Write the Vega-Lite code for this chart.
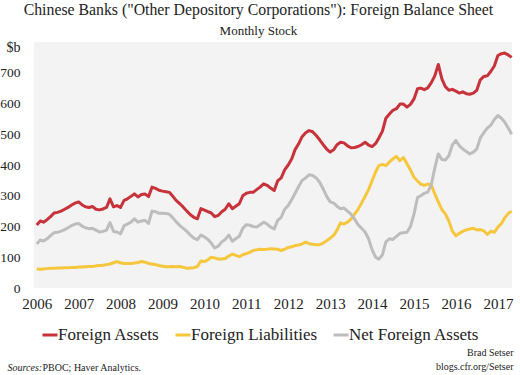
{
  "$schema": "https://vega.github.io/schema/vega-lite/v6.json",
  "width": 478,
  "height": 246,
  "autosize": {"type": "none"},
  "padding": {"left": 34, "top": 42, "right": 8, "bottom": 87},
  "background": "white",
  "config": {
    "font": "Liberation Serif",
    "view": {"fill": "#f3f3f3", "stroke": null},
    "axis": {"labelFont": "Liberation Serif", "titleFont": "Liberation Serif"},
    "legend": {"labelFont": "Liberation Serif", "titleFont": "Liberation Serif"},
    "title": {"font": "Liberation Serif", "subtitleFont": "Liberation Serif"}
  },
  "title": {
    "text": "Chinese Banks (\"Other Depository Corporations\"): Foreign Balance Sheet",
    "subtitle": "Monthly Stock",
    "font": "Liberation Serif",
    "subtitleFont": "Liberation Serif",
    "fontSize": 15.8,
    "fontWeight": "normal",
    "subtitleFontSize": 13,
    "color": "#222",
    "subtitleColor": "#222",
    "anchor": "middle",
    "frame": "bounds",
    "dx": 2,
    "offset": 1,
    "subtitlePadding": 6
  },
  "data": {"values": [
    {"date":"2006-01-01","assets":205,"liabilities":62,"net":143},
    {"date":"2006-02-01","assets":218,"liabilities":61,"net":156},
    {"date":"2006-03-01","assets":214,"liabilities":62,"net":153},
    {"date":"2006-04-01","assets":222,"liabilities":63,"net":160},
    {"date":"2006-05-01","assets":232,"liabilities":64,"net":170},
    {"date":"2006-06-01","assets":244,"liabilities":64,"net":180},
    {"date":"2006-07-01","assets":246,"liabilities":65,"net":181},
    {"date":"2006-08-01","assets":250,"liabilities":65,"net":185},
    {"date":"2006-09-01","assets":256,"liabilities":66,"net":190},
    {"date":"2006-10-01","assets":262,"liabilities":66,"net":196},
    {"date":"2006-11-01","assets":270,"liabilities":67,"net":203},
    {"date":"2006-12-01","assets":276,"liabilities":67,"net":208},
    {"date":"2007-01-01","assets":280,"liabilities":68,"net":210},
    {"date":"2007-02-01","assets":270,"liabilities":68,"net":201},
    {"date":"2007-03-01","assets":264,"liabilities":69,"net":196},
    {"date":"2007-04-01","assets":262,"liabilities":70,"net":193},
    {"date":"2007-05-01","assets":265,"liabilities":70,"net":194},
    {"date":"2007-06-01","assets":256,"liabilities":72,"net":188},
    {"date":"2007-07-01","assets":254,"liabilities":73,"net":182},
    {"date":"2007-08-01","assets":257,"liabilities":74,"net":184},
    {"date":"2007-09-01","assets":262,"liabilities":76,"net":188},
    {"date":"2007-10-01","assets":290,"liabilities":78,"net":213},
    {"date":"2007-11-01","assets":264,"liabilities":82,"net":184},
    {"date":"2007-12-01","assets":268,"liabilities":86,"net":182},
    {"date":"2008-01-01","assets":262,"liabilities":82,"net":176},
    {"date":"2008-02-01","assets":285,"liabilities":80,"net":203},
    {"date":"2008-03-01","assets":290,"liabilities":80,"net":208},
    {"date":"2008-04-01","assets":298,"liabilities":80,"net":214},
    {"date":"2008-05-01","assets":306,"liabilities":81,"net":225},
    {"date":"2008-06-01","assets":296,"liabilities":83,"net":214},
    {"date":"2008-07-01","assets":304,"liabilities":86,"net":218},
    {"date":"2008-08-01","assets":306,"liabilities":84,"net":220},
    {"date":"2008-09-01","assets":297,"liabilities":80,"net":210},
    {"date":"2008-10-01","assets":328,"liabilities":78,"net":250},
    {"date":"2008-11-01","assets":324,"liabilities":76,"net":248},
    {"date":"2008-12-01","assets":318,"liabilities":73,"net":243},
    {"date":"2009-01-01","assets":315,"liabilities":71,"net":243},
    {"date":"2009-02-01","assets":313,"liabilities":69,"net":242},
    {"date":"2009-03-01","assets":311,"liabilities":69,"net":240},
    {"date":"2009-04-01","assets":298,"liabilities":70,"net":228},
    {"date":"2009-05-01","assets":284,"liabilities":69,"net":215},
    {"date":"2009-06-01","assets":274,"liabilities":70,"net":203},
    {"date":"2009-07-01","assets":263,"liabilities":67,"net":194},
    {"date":"2009-08-01","assets":250,"liabilities":64,"net":184},
    {"date":"2009-09-01","assets":238,"liabilities":65,"net":172},
    {"date":"2009-10-01","assets":230,"liabilities":66,"net":162},
    {"date":"2009-11-01","assets":225,"liabilities":70,"net":157},
    {"date":"2009-12-01","assets":258,"liabilities":88,"net":172},
    {"date":"2010-01-01","assets":253,"liabilities":86,"net":166},
    {"date":"2010-02-01","assets":248,"liabilities":92,"net":158},
    {"date":"2010-03-01","assets":244,"liabilities":100,"net":146},
    {"date":"2010-04-01","assets":232,"liabilities":98,"net":130},
    {"date":"2010-05-01","assets":236,"liabilities":94,"net":136},
    {"date":"2010-06-01","assets":248,"liabilities":94,"net":150},
    {"date":"2010-07-01","assets":256,"liabilities":96,"net":158},
    {"date":"2010-08-01","assets":274,"liabilities":104,"net":172},
    {"date":"2010-09-01","assets":258,"liabilities":110,"net":152},
    {"date":"2010-10-01","assets":266,"liabilities":106,"net":160},
    {"date":"2010-11-01","assets":274,"liabilities":102,"net":168},
    {"date":"2010-12-01","assets":300,"liabilities":108,"net":194},
    {"date":"2011-01-01","assets":308,"liabilities":112,"net":206},
    {"date":"2011-02-01","assets":311,"liabilities":116,"net":204},
    {"date":"2011-03-01","assets":311,"liabilities":122,"net":200},
    {"date":"2011-04-01","assets":320,"liabilities":124,"net":198},
    {"date":"2011-05-01","assets":328,"liabilities":126,"net":206},
    {"date":"2011-06-01","assets":339,"liabilities":125,"net":214},
    {"date":"2011-07-01","assets":334,"liabilities":126,"net":208},
    {"date":"2011-08-01","assets":325,"liabilities":128,"net":198},
    {"date":"2011-09-01","assets":317,"liabilities":127,"net":192},
    {"date":"2011-10-01","assets":348,"liabilities":126,"net":220},
    {"date":"2011-11-01","assets":358,"liabilities":122,"net":230},
    {"date":"2011-12-01","assets":384,"liabilities":126,"net":256},
    {"date":"2012-01-01","assets":400,"liabilities":132,"net":268},
    {"date":"2012-02-01","assets":420,"liabilities":134,"net":288},
    {"date":"2012-03-01","assets":450,"liabilities":138,"net":308},
    {"date":"2012-04-01","assets":469,"liabilities":140,"net":330},
    {"date":"2012-05-01","assets":492,"liabilities":143,"net":350},
    {"date":"2012-06-01","assets":505,"liabilities":149,"net":358},
    {"date":"2012-07-01","assets":512,"liabilities":144,"net":368},
    {"date":"2012-08-01","assets":508,"liabilities":142,"net":366},
    {"date":"2012-09-01","assets":496,"liabilities":141,"net":358},
    {"date":"2012-10-01","assets":482,"liabilities":141,"net":344},
    {"date":"2012-11-01","assets":466,"liabilities":146,"net":322},
    {"date":"2012-12-01","assets":452,"liabilities":154,"net":298},
    {"date":"2013-01-01","assets":442,"liabilities":162,"net":280},
    {"date":"2013-02-01","assets":450,"liabilities":172,"net":276},
    {"date":"2013-03-01","assets":466,"liabilities":188,"net":266},
    {"date":"2013-04-01","assets":474,"liabilities":212,"net":258},
    {"date":"2013-05-01","assets":472,"liabilities":208,"net":260},
    {"date":"2013-06-01","assets":462,"liabilities":214,"net":250},
    {"date":"2013-07-01","assets":456,"liabilities":224,"net":240},
    {"date":"2013-08-01","assets":457,"liabilities":240,"net":224},
    {"date":"2013-09-01","assets":460,"liabilities":256,"net":206},
    {"date":"2013-10-01","assets":466,"liabilities":276,"net":194},
    {"date":"2013-11-01","assets":474,"liabilities":298,"net":182},
    {"date":"2013-12-01","assets":465,"liabilities":320,"net":160},
    {"date":"2014-01-01","assets":460,"liabilities":349,"net":124},
    {"date":"2014-02-01","assets":470,"liabilities":378,"net":100},
    {"date":"2014-03-01","assets":488,"liabilities":398,"net":94},
    {"date":"2014-04-01","assets":510,"liabilities":402,"net":108},
    {"date":"2014-05-01","assets":552,"liabilities":398,"net":150},
    {"date":"2014-06-01","assets":566,"liabilities":410,"net":160},
    {"date":"2014-07-01","assets":578,"liabilities":420,"net":158},
    {"date":"2014-08-01","assets":583,"liabilities":428,"net":168},
    {"date":"2014-09-01","assets":598,"liabilities":414,"net":178},
    {"date":"2014-10-01","assets":598,"liabilities":424,"net":180},
    {"date":"2014-11-01","assets":588,"liabilities":404,"net":181},
    {"date":"2014-12-01","assets":597,"liabilities":384,"net":200},
    {"date":"2015-01-01","assets":615,"liabilities":360,"net":240},
    {"date":"2015-02-01","assets":648,"liabilities":348,"net":295},
    {"date":"2015-03-01","assets":650,"liabilities":338,"net":300},
    {"date":"2015-04-01","assets":645,"liabilities":334,"net":308},
    {"date":"2015-05-01","assets":651,"liabilities":338,"net":312},
    {"date":"2015-06-01","assets":668,"liabilities":336,"net":336},
    {"date":"2015-07-01","assets":690,"liabilities":306,"net":390},
    {"date":"2015-08-01","assets":727,"liabilities":280,"net":436},
    {"date":"2015-09-01","assets":680,"liabilities":255,"net":418},
    {"date":"2015-10-01","assets":655,"liabilities":241,"net":416},
    {"date":"2015-11-01","assets":643,"liabilities":218,"net":430},
    {"date":"2015-12-01","assets":646,"liabilities":185,"net":465},
    {"date":"2016-01-01","assets":640,"liabilities":170,"net":480},
    {"date":"2016-02-01","assets":634,"liabilities":178,"net":462},
    {"date":"2016-03-01","assets":638,"liabilities":184,"net":452},
    {"date":"2016-04-01","assets":632,"liabilities":189,"net":444},
    {"date":"2016-05-01","assets":630,"liabilities":192,"net":436},
    {"date":"2016-06-01","assets":634,"liabilities":194,"net":442},
    {"date":"2016-07-01","assets":643,"liabilities":189,"net":452},
    {"date":"2016-08-01","assets":677,"liabilities":190,"net":488},
    {"date":"2016-09-01","assets":688,"liabilities":186,"net":505},
    {"date":"2016-10-01","assets":690,"liabilities":174,"net":520},
    {"date":"2016-11-01","assets":705,"liabilities":185,"net":530},
    {"date":"2016-12-01","assets":722,"liabilities":181,"net":548},
    {"date":"2017-01-01","assets":756,"liabilities":198,"net":561},
    {"date":"2017-02-01","assets":762,"liabilities":210,"net":552},
    {"date":"2017-03-01","assets":764,"liabilities":228,"net":540},
    {"date":"2017-04-01","assets":758,"liabilities":242,"net":520},
    {"date":"2017-05-01","assets":750,"liabilities":250,"net":500}
  ]},
  "layer": [
    {
      "mark": {"type": "line", "strokeWidth": 3, "strokeJoin": "round"},
      "encoding": {
        "x": {
          "field": "date", "type": "temporal",
          "scale": {"type": "utc", "domain": [{"year": 2005, "month": 12, "date": 8, "utc": true}, {"year": 2017, "month": 5, "date": 4, "utc": true}]},
          "axis": {
            "orient": "bottom",
            "format": "%Y", "formatType": "utc",
            "values": [{"year": 2006, "utc": true}, {"year": 2007, "utc": true}, {"year": 2008, "utc": true}, {"year": 2009, "utc": true}, {"year": 2010, "utc": true}, {"year": 2011, "utc": true}, {"year": 2012, "utc": true}, {"year": 2013, "utc": true}, {"year": 2014, "utc": true}, {"year": 2015, "utc": true}, {"year": 2016, "utc": true}, {"year": 2017, "utc": true}],
            "labelFont": "Liberation Serif", "labelFontSize": 15, "labelColor": "#222", "labelPadding": 8, "labelFlush": false, "labelOverlap": false,
            "ticks": false, "tickSize": 0, "domain": false, "grid": false,
            "title": "Sources:", "titleFont": "Liberation Serif", "titleFontStyle": "italic", "titleFontWeight": "normal", "titleFontSize": 10,
            "titleColor": "#222", "titleAlign": "left", "titleAnchor": "start", "titleAngle": 0,
            "titleBaseline": "middle", "titleX": -27, "titleY": 79
          }
        },
        "y": {
          "field": "assets", "type": "quantitative",
          "scale": {"domain": [0, 800], "nice": false},
          "axis": {
            "orient": "left",
            "values": [0, 100, 200, 300, 400, 500, 600, 700],
            "labelFont": "Liberation Serif", "labelFontSize": 13.5, "labelColor": "#222", "labelPadding": 14,
            "ticks": false, "tickSize": 0, "domain": false, "grid": false,
            "title": "$b", "titleFont": "Liberation Serif", "titleAngle": 0, "titleAlign": "right", "titleBaseline": "middle",
            "titleX": -14, "titleY": 5, "titleFontSize": 14, "titleFontWeight": "normal", "titleColor": "#222"
          }
        },
        "color": {
          "datum": "Foreign Assets", "type": "nominal",
          "scale": {"domain": ["Foreign Assets", "Foreign Liabilities", "Net Foreign Assets"], "range": ["#c8323a", "#f6c63c", "#bdbdbd"]},
          "legend": {
            "orient": "none", "legendX": 7, "legendY": 284, "direction": "horizontal", "title": null,
            "symbolType": "stroke", "symbolSize": 225, "symbolStrokeWidth": 3,
            "labelFontSize": 17, "labelFont": "Liberation Serif", "labelColor": "#222", "labelOffset": -1,
            "columnPadding": 9, "labelLimit": 0
          }
        }
      }
    },
    {
      "mark": {"type": "line", "strokeWidth": 3, "strokeJoin": "round"},
      "encoding": {
        "x": {
          "field": "date", "type": "temporal",
          "axis": {
            "orient": "bottom",
            "labels": false, "ticks": false, "tickSize": 0, "domain": false, "grid": false,
            "title": "PBOC; Haver Analytics.", "titleFont": "Liberation Serif", "titleFontWeight": "normal", "titleFontSize": 10,
            "titleColor": "#222", "titleAlign": "left", "titleAnchor": "start", "titleAngle": 0,
            "titleBaseline": "middle", "titleX": 8, "titleY": 79
          }
        },
        "y": {"field": "liabilities", "type": "quantitative", "axis": null},
        "color": {"datum": "Foreign Liabilities", "type": "nominal"}
      }
    },
    {
      "mark": {"type": "line", "strokeWidth": 3, "strokeJoin": "round"},
      "encoding": {
        "x": {"field": "date", "type": "temporal", "axis": null},
        "y": {
          "field": "net", "type": "quantitative",
          "axis": {
            "orient": "right", "labels": false, "ticks": false, "tickSize": 0, "domain": false, "grid": false,
            "title": ["Brad Setser", "blogs.cfr.org/Setser"], "titleFont": "Liberation Serif", "titleFontWeight": "normal", "titleFontSize": 10,
            "titleColor": "#222", "titleAlign": "right", "titleAngle": 0, "titleBaseline": "top",
            "titleLineHeight": 14, "titleX": 1, "titleY": 305
          }
        },
        "color": {"datum": "Net Foreign Assets", "type": "nominal"}
      }
    }
  ],
  "resolve": {"axis": {"x": "independent", "y": "independent"}}
}
